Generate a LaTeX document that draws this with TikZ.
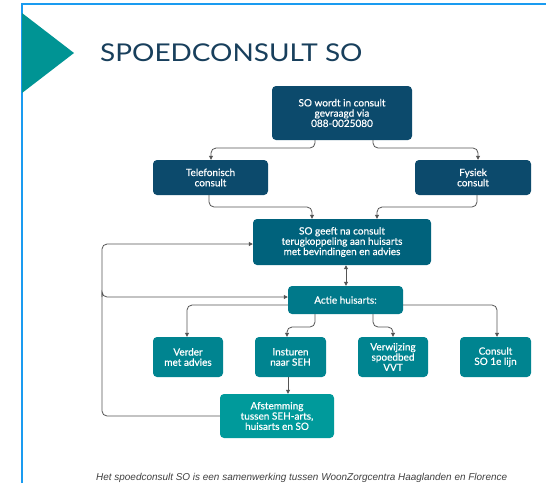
\documentclass[tikz,border=0pt]{standalone}
\usepackage{fontspec}
\setmainfont{Lato}
\newfontfamily\boxfont[FakeBold=0.6]{Lato}
\newfontfamily\footfont{Liberation Sans}
\usetikzlibrary{arrows.meta}
\definecolor{frameblue}{HTML}{1A9BF0}
\definecolor{navy}{HTML}{0C4A6C}
\definecolor{deepteal}{HTML}{00627C}
\definecolor{midteal}{HTML}{00798A}
\definecolor{rowteal}{HTML}{008490}
\definecolor{lightteal}{HTML}{009A9B}
\definecolor{tri}{HTML}{009494}
\definecolor{titlecol}{HTML}{183F5C}
\definecolor{wire}{HTML}{555555}
\tikzset{
  box/.style={rounded corners=4pt, text=white, align=center,
    font=\boxfont\fontsize{10}{10.3}\selectfont, inner sep=1pt},
  wirestyle/.style={draw=wire, line width=0.8pt, rounded corners=5pt,
    -{Triangle[length=4pt,width=4pt]}},
}
\begin{document}
\begin{tikzpicture}[x=1pt,y=-1pt]
\useasboundingbox (0,0) rectangle (546,483);
\fill[white] (0,0) rectangle (546,483);
% page frame
\draw[frameblue, line width=2pt] (22,483) -- (22,4) -- (546,4);
% title marker
\fill[tri] (22,13) -- (74,53) -- (22,93) -- cycle;
\node[anchor=west, text=titlecol, font=\fontsize{24.5}{28}\selectfont, inner sep=0pt] (title) at (100,53) {\scalebox{1.14}[1]{SPOEDCONSULT SO}};

% boxes
\node[box, fill=navy, minimum width=140pt, minimum height=54pt] (req) at (342,113) {SO wordt in consult\\gevraagd via\\088-0025080};
\node[box, fill=navy, minimum width=115pt, minimum height=35pt] (tel) at (210.5,177.5) {Telefonisch\\consult};
\node[box, fill=navy, minimum width=116pt, minimum height=35pt] (fys) at (473,177.5) {Fysiek\\consult};
\node[box, fill=deepteal, minimum width=178pt, minimum height=46pt] (fb) at (342,242) {SO geeft na consult\\terugkoppeling aan huisarts\\met bevindingen en advies};
\node[box, fill=midteal, minimum width=115pt, minimum height=28pt] (act) at (345.5,300) {Actie huisarts:};
\node[box, fill=rowteal, minimum width=70pt, minimum height=40pt] (ver) at (188,357) {Verder\\met advies};
\node[box, fill=rowteal, minimum width=71pt, minimum height=40pt] (ins) at (290.5,357) {Insturen\\naar SEH};
\node[box, fill=rowteal, minimum width=70pt, minimum height=40pt] (vvt) at (393,357) {Verwijzing\\spoedbed\\VVT};
\node[box, fill=rowteal, minimum width=71pt, minimum height=40pt] (con) at (495.5,357) {Consult\\SO 1e lijn};
\node[box, fill=lightteal, minimum width=114pt, minimum height=44pt] (afs) at (277,416) {Afstemming\\tussen SEH-arts,\\huisarts en SO};

% connectors
\draw[wirestyle] (req.south -| 315,0) |- (211,148) -- (tel.north -| 211,0);
\draw[wirestyle] (req.south -| 373,0) |- (478,148) -- (fys.north -| 478,0);
\draw[wirestyle] (tel.south -| 209,0) |- (312,207) -- (fb.north -| 312,0);
\draw[wirestyle] (fys.south -| 477,0) |- (377,207) -- (fb.north -| 377,0);
\draw[wirestyle, {Triangle[length=4pt,width=4pt]}-{Triangle[length=4pt,width=4pt]}, rounded corners=0pt] (fb.south -| 346,0) -- (act.north -| 346,0);
\draw[wirestyle] (act.west |- 0,305) -| (ver.north -| 187,0);
\draw[wirestyle] (act.east |- 0,305) -| (con.north -| 497,0);
\draw[wirestyle] (act.south -| 315,0) |- (287,327) -- (ins.north -| 287,0);
\draw[wirestyle] (act.south -| 373,0) |- (393,327) -- (vvt.north -| 393,0);
\draw[wirestyle, rounded corners=0pt] (ins.south -| 288,0) -- (afs.north -| 288,0);
\coordinate (split) at (102,297);
\draw[wirestyle] (afs.west |- 0,416) -| (split) |- (fb.west |- 0,244);
\draw[wirestyle] (split) |- (act.west |- 0,297);

% footer
\node[anchor=west, text=black!75, font=\footfont\itshape\fontsize{9.95}{11}\selectfont, inner sep=0pt] (foot) at (96,478) {Het spoedconsult SO is een samenwerking tussen WoonZorgcentra Haaglanden en Florence};
\end{tikzpicture}
\end{document}
